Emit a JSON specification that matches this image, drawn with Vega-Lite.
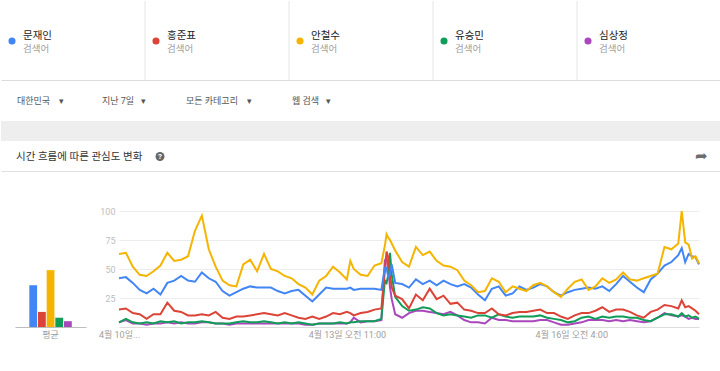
{
  "$schema": "https://vega.github.io/schema/vega-lite/v6.json",
  "background": "white",
  "padding": 0,
  "bounds": "flush",
  "spacing": 0,
  "config": {
    "view": {"stroke": null},
    "font": "Roboto, 'Noto Sans CJK KR', sans-serif"
  },
  "vconcat": [
    {
      "width": 720,
      "height": 79,
      "data": {"values": [{"name": "문재인"}, {"name": "홍준표"}, {"name": "안철수"}, {"name": "유승민"}, {"name": "심상정"}]},
      "encoding": {
        "x": {"field": "name", "type": "nominal", "sort": ["문재인", "홍준표", "안철수", "유승민", "심상정"], "axis": null, "scale": {"paddingInner": 0, "paddingOuter": 0}, "bandPosition": 0}
      },
      "layer": [
        {
          "transform": [{"filter": "datum.name != '심상정'"}],
          "mark": {"type": "rule", "color": "#e6e6e6", "strokeWidth": 1},
          "encoding": {"x": {"field": "name", "type": "nominal", "sort": ["문재인", "홍준표", "안철수", "유승민", "심상정"], "axis": null, "bandPosition": 1}}
        },
        {
          "mark": {"type": "point", "filled": true, "size": 50, "opacity": 1, "xOffset": 11, "yOffset": 0.5},
          "encoding": {
            "color": {"field": "name", "type": "nominal", "scale": {"domain": ["문재인", "홍준표", "안철수", "유승민", "심상정"], "range": ["#4285f4", "#db4437", "#f4b400", "#0f9d58", "#ab47bc"]}, "legend": null}
          }
        },
        {
          "mark": {"type": "text", "align": "left", "dx": 22, "dy": -5, "fontSize": 10.5, "color": "#222222"},
          "encoding": {"text": {"field": "name"}}
        },
        {
          "mark": {"type": "text", "align": "left", "dx": 22, "dy": 8.5, "fontSize": 9.5, "color": "#a0a0a0", "text": "검색어"},
          "encoding": {}
        }
      ]
    },
    {
      "width": 720,
      "height": 41,
      "view": {"stroke": "#dcdcdc", "strokeWidth": 1, "strokeDash": [720, 41, 720, 41]},
      "data": {"values": [{}]},
      "mark": {"type": "text", "align": "left", "dx": -344, "fontSize": 9, "color": "#555555", "text": "대한민국\u00a0\u00a0\u00a0\u00a0▾\u00a0\u00a0\u00a0\u00a0\u00a0\u00a0\u00a0\u00a0\u00a0\u00a0\u00a0\u00a0\u00a0\u00a0\u00a0\u00a0\u00a0지난 7일\u00a0\u00a0\u00a0▾\u00a0\u00a0\u00a0\u00a0\u00a0\u00a0\u00a0\u00a0\u00a0\u00a0\u00a0\u00a0\u00a0\u00a0\u00a0\u00a0\u00a0\u00a0모든 카테고리\u00a0\u00a0\u00a0\u00a0▾\u00a0\u00a0\u00a0\u00a0\u00a0\u00a0\u00a0\u00a0\u00a0\u00a0\u00a0\u00a0\u00a0\u00a0\u00a0\u00a0\u00a0\u00a0웹 검색\u00a0\u00a0\u00a0▾"},
      "encoding": {}
    },
    {
      "width": 720,
      "height": 20,
      "view": {"fill": "#eeeeee", "stroke": null},
      "data": {"values": [{}]},
      "mark": {"type": "point", "opacity": 0},
      "encoding": {}
    },
    {
      "width": 720,
      "height": 30,
      "view": {"stroke": "#e0e0e0", "strokeDash": [0, 750, 720, 30]},
      "data": {"values": [{}]},
      "layer": [
        {"mark": {"type": "text", "text": "시간 흐름에 따른 관심도 변화", "align": "left", "dx": -345, "dy": 1, "fontSize": 10.5, "color": "#333333"}, "encoding": {}},
        {"mark": {"type": "point", "filled": true, "size": 80, "color": "#666666", "opacity": 1, "xOffset": -201, "yOffset": 0.5}, "encoding": {}},
        {"mark": {"type": "text", "text": "?", "dx": -201, "dy": 1, "fontSize": 8, "fontWeight": "bold", "color": "white"}, "encoding": {}},
        {"mark": {"type": "text", "text": "➦", "dx": 340, "dy": 0, "fontSize": 15, "color": "#6e6e6e"}, "encoding": {}}
      ]
    },
    {
      "width": 720,
      "height": 40,
      "data": {"values": [{}]},
      "mark": {"type": "point", "opacity": 0},
      "encoding": {}
    },
    {
      "bounds": "flush",
      "spacing": 33,
      "hconcat": [
        {
          "width": 85,
          "height": 116,
          "data": {"values": [
            {"stat": "평균", "name": "문재인", "avg": 36},
            {"stat": "평균", "name": "홍준표", "avg": 13},
            {"stat": "평균", "name": "안철수", "avg": 49},
            {"stat": "평균", "name": "유승민", "avg": 8},
            {"stat": "평균", "name": "심상정", "avg": 5}
          ]},
          "mark": {"type": "bar"},
          "encoding": {
            "x": {"field": "stat", "type": "nominal", "title": null, "scale": {"paddingInner": 0, "paddingOuter": 0.5, "align": 0.666}, "axis": {"ticks": false, "labelAngle": 0, "labelColor": "#9e9e9e", "labelFontSize": 9, "labelPadding": 3, "domainColor": "#bdbdbd", "domainDash": [0, 14, 71, 0]}},
            "xOffset": {"field": "name", "type": "nominal", "sort": ["문재인", "홍준표", "안철수", "유승민", "심상정"], "scale": {"paddingInner": 0.1, "paddingOuter": 0}},
            "y": {"field": "avg", "type": "quantitative", "scale": {"domain": [0, 100], "nice": false}, "axis": null},
            "color": {"field": "name", "type": "nominal", "scale": {"domain": ["문재인", "홍준표", "안철수", "유승민", "심상정"], "range": ["#4285f4", "#db4437", "#f4b400", "#0f9d58", "#ab47bc"]}, "legend": null}
          }
        },
        {
          "width": 580,
          "height": 116,
          "data": {"values": [
            {"t": "2017-04-10T17:00", "문재인": 42, "홍준표": 15, "안철수": 63, "유승민": 4, "심상정": 4},
            {"t": "2017-04-10T19:00", "문재인": 43, "홍준표": 16, "안철수": 64, "유승민": 7, "심상정": 6},
            {"t": "2017-04-10T21:00", "문재인": 38, "홍준표": 12, "안철수": 52, "유승민": 4, "심상정": 3},
            {"t": "2017-04-10T23:00", "문재인": 32, "홍준표": 11, "안철수": 45, "유승민": 3, "심상정": 3},
            {"t": "2017-04-11T01:00", "문재인": 29, "홍준표": 7, "안철수": 44, "유승민": 4, "심상정": 2},
            {"t": "2017-04-11T03:00", "문재인": 33, "홍준표": 11, "안철수": 48, "유승민": 3, "심상정": 3},
            {"t": "2017-04-11T05:00", "문재인": 28, "홍준표": 11, "안철수": 53, "유승민": 5, "심상정": 3},
            {"t": "2017-04-11T07:00", "문재인": 38, "홍준표": 21, "안철수": 64, "유승민": 4, "심상정": 4},
            {"t": "2017-04-11T09:00", "문재인": 40, "홍준표": 14, "안철수": 57, "유승민": 5, "심상정": 3},
            {"t": "2017-04-11T11:00", "문재인": 44, "홍준표": 13, "안철수": 58, "유승민": 3, "심상정": 4},
            {"t": "2017-04-11T13:00", "문재인": 40, "홍준표": 10, "안철수": 61, "유승민": 4, "심상정": 3},
            {"t": "2017-04-11T15:00", "문재인": 39, "홍준표": 10, "안철수": 83, "유승민": 4, "심상정": 3},
            {"t": "2017-04-11T17:00", "문재인": 47, "홍준표": 11, "안철수": 96, "유승민": 5, "심상정": 4},
            {"t": "2017-04-11T19:00", "문재인": 42, "홍준표": 10, "안철수": 67, "유승민": 4, "심상정": 4},
            {"t": "2017-04-11T21:00", "문재인": 39, "홍준표": 13, "안철수": 52, "유승민": 3, "심상정": 3},
            {"t": "2017-04-11T23:00", "문재인": 31, "홍준표": 8, "안철수": 40, "유승민": 3, "심상정": 3},
            {"t": "2017-04-12T01:00", "문재인": 27, "홍준표": 7, "안철수": 36, "유승민": 3, "심상정": 2},
            {"t": "2017-04-12T03:00", "문재인": 30, "홍준표": 9, "안철수": 35, "유승민": 4, "심상정": 3},
            {"t": "2017-04-12T05:00", "문재인": 33, "홍준표": 9, "안철수": 54, "유승민": 5, "심상정": 3},
            {"t": "2017-04-12T07:00", "문재인": 35, "홍준표": 10, "안철수": 58, "유승민": 4, "심상정": 3},
            {"t": "2017-04-12T09:00", "문재인": 34, "홍준표": 11, "안철수": 48, "유승민": 4, "심상정": 3},
            {"t": "2017-04-12T11:00", "문재인": 34, "홍준표": 12, "안철수": 63, "유승민": 5, "심상정": 3},
            {"t": "2017-04-12T13:00", "문재인": 34, "홍준표": 11, "안철수": 50, "유승민": 4, "심상정": 3},
            {"t": "2017-04-12T15:00", "문재인": 31, "홍준표": 10, "안철수": 48, "유승민": 3, "심상정": 3},
            {"t": "2017-04-12T17:00", "문재인": 29, "홍준표": 12, "안철수": 44, "유승민": 4, "심상정": 3},
            {"t": "2017-04-12T19:00", "문재인": 31, "홍준표": 10, "안철수": 42, "유승민": 3, "심상정": 3},
            {"t": "2017-04-12T21:00", "문재인": 32, "홍준표": 8, "안철수": 37, "유승민": 4, "심상정": 3},
            {"t": "2017-04-12T23:00", "문재인": 27, "홍준표": 7, "안철수": 34, "유승민": 3, "심상정": 2},
            {"t": "2017-04-13T01:00", "문재인": 22, "홍준표": 9, "안철수": 28, "유승민": 2, "심상정": 2},
            {"t": "2017-04-13T03:00", "문재인": 28, "홍준표": 7, "안철수": 40, "유승민": 3, "심상정": 3},
            {"t": "2017-04-13T05:00", "문재인": 34, "홍준표": 9, "안철수": 44, "유승민": 3, "심상정": 3},
            {"t": "2017-04-13T07:00", "문재인": 33, "홍준표": 12, "안철수": 52, "유승민": 3, "심상정": 3},
            {"t": "2017-04-13T09:00", "문재인": 33, "홍준표": 11, "안철수": 47, "유승민": 4, "심상정": 3},
            {"t": "2017-04-13T11:00", "문재인": 33, "홍준표": 13, "안철수": 41, "유승민": 3, "심상정": 3},
            {"t": "2017-04-13T12:00", "문재인": 34, "홍준표": 12, "안철수": 57, "유승민": 4, "심상정": 4},
            {"t": "2017-04-13T13:00", "문재인": 32, "홍준표": 10, "안철수": 50, "유승민": 4, "심상정": 8},
            {"t": "2017-04-13T15:00", "문재인": 33, "홍준표": 12, "안철수": 45, "유승민": 5, "심상정": 4},
            {"t": "2017-04-13T17:00", "문재인": 33, "홍준표": 13, "안철수": 44, "유승민": 5, "심상정": 5},
            {"t": "2017-04-13T19:00", "문재인": 33, "홍준표": 15, "안철수": 53, "유승민": 5, "심상정": 5},
            {"t": "2017-04-13T21:00", "문재인": 32, "홍준표": 16, "안철수": 55, "유승민": 7, "심상정": 6},
            {"t": "2017-04-13T22:00", "문재인": 51, "홍준표": 48, "안철수": 70, "유승민": 40, "심상정": 57},
            {"t": "2017-04-13T22:30", "문재인": 51, "홍준표": 65, "안철수": 80, "유승민": 38, "심상정": 60},
            {"t": "2017-04-13T23:00", "문재인": 43, "홍준표": 60, "안철수": 77, "유승민": 45, "심상정": 50},
            {"t": "2017-04-13T23:30", "문재인": 45, "홍준표": 45, "안철수": 75, "유승민": 64, "심상정": 34},
            {"t": "2017-04-14T00:00", "문재인": 54, "홍준표": 34, "안철수": 72, "유승민": 45, "심상정": 24},
            {"t": "2017-04-14T01:00", "문재인": 38, "홍준표": 27, "안철수": 66, "유승민": 26, "심상정": 11},
            {"t": "2017-04-14T03:00", "문재인": 37, "홍준표": 24, "안철수": 56, "유승민": 18, "심상정": 8},
            {"t": "2017-04-14T05:00", "문재인": 34, "홍준표": 16, "안철수": 52, "유승민": 14, "심상정": 12},
            {"t": "2017-04-14T07:00", "문재인": 41, "홍준표": 28, "안철수": 69, "유승민": 15, "심상정": 14},
            {"t": "2017-04-14T09:00", "문재인": 37, "홍준표": 23, "안철수": 62, "유승민": 17, "심상정": 14},
            {"t": "2017-04-14T11:00", "문재인": 40, "홍준표": 33, "안철수": 65, "유승민": 16, "심상정": 13},
            {"t": "2017-04-14T13:00", "문재인": 36, "홍준표": 24, "안철수": 57, "유승민": 12, "심상정": 12},
            {"t": "2017-04-14T15:00", "문재인": 40, "홍준표": 27, "안철수": 53, "유승민": 10, "심상정": 11},
            {"t": "2017-04-14T17:00", "문재인": 37, "홍준표": 20, "안철수": 52, "유승민": 11, "심상정": 13},
            {"t": "2017-04-14T19:00", "문재인": 35, "홍준표": 21, "안철수": 49, "유승민": 10, "심상정": 10},
            {"t": "2017-04-14T21:00", "문재인": 37, "홍준표": 15, "안철수": 40, "유승민": 9, "심상정": 6},
            {"t": "2017-04-14T23:00", "문재인": 34, "홍준표": 14, "안철수": 36, "유승민": 8, "심상정": 4},
            {"t": "2017-04-15T01:00", "문재인": 28, "홍준표": 12, "안철수": 30, "유승민": 10, "심상정": 4},
            {"t": "2017-04-15T03:00", "문재인": 23, "홍준표": 12, "안철수": 31, "유승민": 10, "심상정": 3},
            {"t": "2017-04-15T05:00", "문재인": 33, "홍준표": 16, "안철수": 42, "유승민": 8, "심상정": 8},
            {"t": "2017-04-15T07:00", "문재인": 35, "홍준표": 11, "안철수": 39, "유승민": 11, "심상정": 6},
            {"t": "2017-04-15T09:00", "문재인": 27, "홍준표": 10, "안철수": 30, "유승민": 9, "심상정": 6},
            {"t": "2017-04-15T11:00", "문재인": 29, "홍준표": 12, "안철수": 35, "유승민": 8, "심상정": 5},
            {"t": "2017-04-15T13:00", "문재인": 35, "홍준표": 13, "안철수": 33, "유승민": 9, "심상정": 5},
            {"t": "2017-04-15T15:00", "문재인": 32, "홍준표": 13, "안철수": 31, "유승민": 9, "심상정": 5},
            {"t": "2017-04-15T17:00", "문재인": 34, "홍준표": 14, "안철수": 36, "유승민": 9, "심상정": 5},
            {"t": "2017-04-15T19:00", "문재인": 37, "홍준표": 15, "안철수": 38, "유승민": 10, "심상정": 6},
            {"t": "2017-04-15T21:00", "문재인": 35, "홍준표": 12, "안철수": 35, "유승민": 8, "심상정": 6},
            {"t": "2017-04-15T23:00", "문재인": 30, "홍준표": 12, "안철수": 30, "유승민": 7, "심상정": 4},
            {"t": "2017-04-16T01:00", "문재인": 27, "홍준표": 9, "안철수": 26, "유승민": 6, "심상정": 2},
            {"t": "2017-04-16T03:00", "문재인": 30, "홍준표": 7, "안철수": 33, "유승민": 4, "심상정": 2},
            {"t": "2017-04-16T05:00", "문재인": 32, "홍준표": 10, "안철수": 39, "유승민": 5, "심상정": 3},
            {"t": "2017-04-16T07:00", "문재인": 33, "홍준표": 12, "안철수": 41, "유승민": 8, "심상정": 4},
            {"t": "2017-04-16T09:00", "문재인": 34, "홍준표": 12, "안철수": 32, "유승민": 9, "심상정": 6},
            {"t": "2017-04-16T11:00", "문재인": 33, "홍준표": 14, "안철수": 35, "유승민": 7, "심상정": 6},
            {"t": "2017-04-16T13:00", "문재인": 35, "홍준표": 17, "안철수": 42, "유승민": 9, "심상정": 6},
            {"t": "2017-04-16T15:00", "문재인": 31, "홍준표": 13, "안철수": 38, "유승민": 8, "심상정": 5},
            {"t": "2017-04-16T17:00", "문재인": 37, "홍준표": 15, "안철수": 41, "유승민": 9, "심상정": 6},
            {"t": "2017-04-16T19:00", "문재인": 44, "홍준표": 15, "안철수": 47, "유승민": 9, "심상정": 5},
            {"t": "2017-04-16T21:00", "문재인": 39, "홍준표": 13, "안철수": 41, "유승민": 8, "심상정": 6},
            {"t": "2017-04-16T23:00", "문재인": 34, "홍준표": 10, "안철수": 40, "유승민": 8, "심상정": 5},
            {"t": "2017-04-17T01:00", "문재인": 30, "홍준표": 8, "안철수": 42, "유승민": 6, "심상정": 4},
            {"t": "2017-04-17T03:00", "문재인": 41, "홍준표": 13, "안철수": 44, "유승민": 5, "심상정": 5},
            {"t": "2017-04-17T05:00", "문재인": 46, "홍준표": 15, "안철수": 46, "유승민": 8, "심상정": 8},
            {"t": "2017-04-17T07:00", "문재인": 53, "홍준표": 19, "안철수": 69, "유승민": 11, "심상정": 12},
            {"t": "2017-04-17T09:00", "문재인": 56, "홍준표": 18, "안철수": 67, "유승민": 11, "심상정": 10},
            {"t": "2017-04-17T11:00", "문재인": 62, "홍준표": 16, "안철수": 72, "유승민": 9, "심상정": 9},
            {"t": "2017-04-17T12:00", "문재인": 68, "홍준표": 23, "안철수": 100, "유승민": 12, "심상정": 10},
            {"t": "2017-04-17T13:00", "문재인": 56, "홍준표": 17, "안철수": 73, "유승민": 9, "심상정": 9},
            {"t": "2017-04-17T14:00", "문재인": 63, "홍준표": 18, "안철수": 71, "유승민": 10, "심상정": 7},
            {"t": "2017-04-17T15:00", "문재인": 61, "홍준표": 16, "안철수": 59, "유승민": 8, "심상정": 8},
            {"t": "2017-04-17T16:00", "문재인": 60, "홍준표": 14, "안철수": 61, "유승민": 9, "심상정": 7},
            {"t": "2017-04-17T17:00", "문재인": 54, "홍준표": 11, "안철수": 55, "유승민": 7, "심상정": 7}
          ]},
          "transform": [{"fold": ["심상정", "유승민", "홍준표", "문재인", "안철수"], "as": ["name", "value"]}],
          "mark": {"type": "line", "strokeWidth": 2},
          "encoding": {
            "x": {
              "field": "t", "type": "temporal", "title": null,
              "scale": {"domain": [{"year": 2017, "month": 4, "date": 10, "hours": 17}, {"year": 2017, "month": 4, "date": 17, "hours": 17}]},
              "axis": {
                "values": [{"year": 2017, "month": 4, "date": 10, "hours": 17}, {"year": 2017, "month": 4, "date": 13, "hours": 11}, {"year": 2017, "month": 4, "date": 16, "hours": 4}],
                "labelExpr": "hours(datum.value) == 17 ? '4월 10일...' : (hours(datum.value) == 11 ? '4월 13일 오전 11:00' : '4월 16일 오전 4:00')",
                "ticks": false, "grid": false, "domain": true, "domainColor": "#dcdcdc",
                "labelColor": "#9e9e9e", "labelFontSize": 9, "labelPadding": 3, "labelFlush": false, "labelOverlap": false
              }
            },
            "y": {
              "field": "value", "type": "quantitative", "title": null,
              "scale": {"domain": [0, 100], "nice": false},
              "axis": {"values": [25, 50, 75, 100], "ticks": false, "domain": false, "grid": true, "gridColor": "#ececec", "labelColor": "#bdbdbd", "labelFontSize": 9, "labelPadding": 4}
            },
            "color": {"field": "name", "type": "nominal", "scale": {"domain": ["문재인", "홍준표", "안철수", "유승민", "심상정"], "range": ["#4285f4", "#db4437", "#f4b400", "#0f9d58", "#ab47bc"]}, "legend": null}
          }
        }
      ]
    }
  ]
}
